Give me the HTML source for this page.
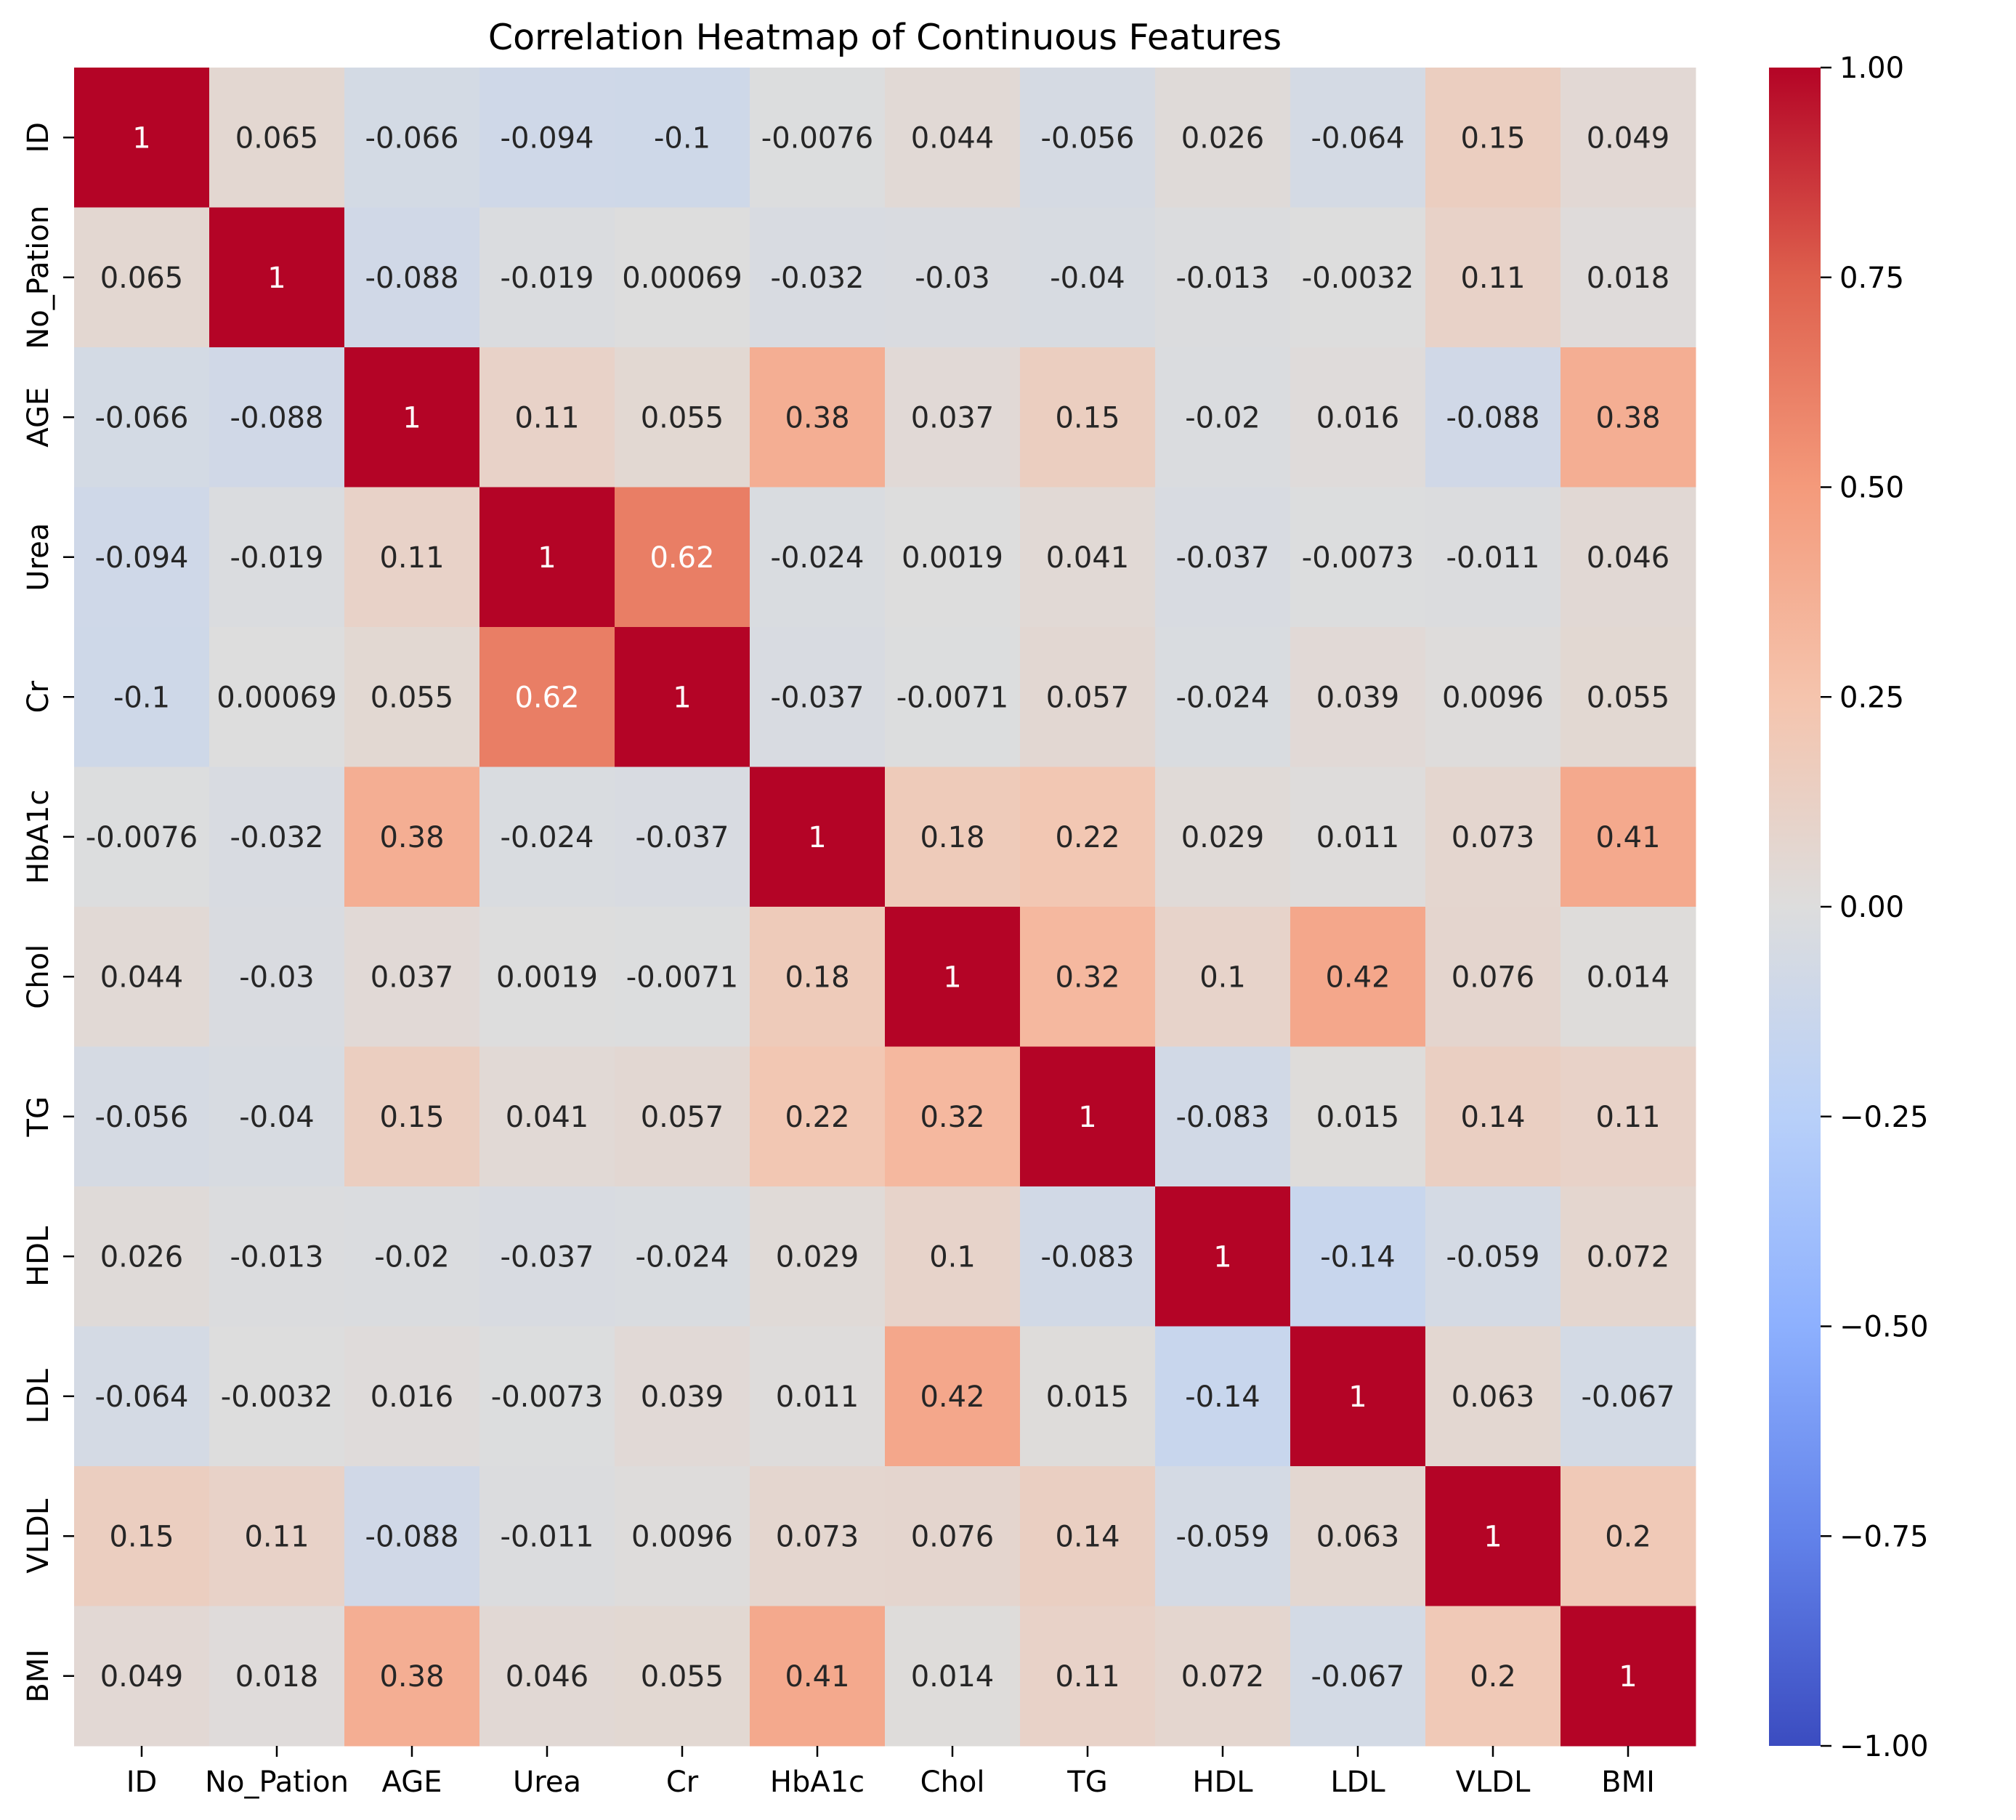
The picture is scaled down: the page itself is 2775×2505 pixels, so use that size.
<!DOCTYPE html>
<html><head><meta charset="utf-8"><style>
html,body{margin:0;padding:0;background:#fff;}
svg{display:block;font-family:"DejaVu Sans","Liberation Sans",sans-serif;}
</style></head><body>
<svg id="chart" width="2775" height="2505" viewBox="0 0 2775 2505" xmlns="http://www.w3.org/2000/svg">
<defs>
<linearGradient id="cbgrad" x1="0" y1="1" x2="0" y2="0">
<stop offset="0" stop-color="rgb(59,76,192)"/>
<stop offset="0.125" stop-color="rgb(98,130,234)"/>
<stop offset="0.25" stop-color="rgb(141,176,254)"/>
<stop offset="0.375" stop-color="rgb(184,208,249)"/>
<stop offset="0.5" stop-color="rgb(221,221,221)"/>
<stop offset="0.625" stop-color="rgb(245,196,173)"/>
<stop offset="0.75" stop-color="rgb(244,154,123)"/>
<stop offset="0.875" stop-color="rgb(222,96,77)"/>
<stop offset="1" stop-color="rgb(180,4,38)"/>
</linearGradient>
</defs>
<text x="1218" y="68" font-size="49" text-anchor="middle" fill="#000">Correlation Heatmap of Continuous Features</text>
<g id="cells"></g>
<g id="yticks"></g>
<g id="xticks"></g>
<rect x="2435" y="93" width="71" height="2310" fill="url(#cbgrad)"/>
<g id="cbticks"></g>
</svg>
<script>
const labels = ["ID","No_Pation","AGE","Urea","Cr","HbA1c","Chol","TG","HDL","LDL","VLDL","BMI"];
const rowID = [1,0.065,-0.066,-0.094,-0.1,-0.0076,0.044,-0.056,0.026,-0.064,0.15,0.049];
const rowNoPation = [0.065,1,-0.088,-0.019,0.00069,-0.032,-0.03,-0.04,-0.013,-0.0032,0.11,0.018];
const rowAGE = [-0.066,-0.088,1,0.11,0.055,0.38,0.037,0.15,-0.02,0.016,-0.088,0.38];
const rowUrea = [-0.094,-0.019,0.11,1,0.62,-0.024,0.0019,0.041,-0.037,-0.0073,-0.011,0.046];
const rowCr = [-0.1,0.00069,0.055,0.62,1,-0.037,-0.0071,0.057,-0.024,0.039,0.0096,0.055];
const rowHbA1c = [-0.0076,-0.032,0.38,-0.024,-0.037,1,0.18,0.22,0.029,0.011,0.073,0.41];
const rowChol = [0.044,-0.03,0.037,0.0019,-0.0071,0.18,1,0.32,0.1,0.42,0.076,0.014];
const rowTG = [-0.056,-0.04,0.15,0.041,0.057,0.22,0.32,1,-0.083,0.015,0.14,0.11];
const rowHDL = [0.026,-0.013,-0.02,-0.037,-0.024,0.029,0.1,-0.083,1,-0.14,-0.059,0.072];
const rowLDL = [-0.064,-0.0032,0.016,-0.0073,0.039,0.011,0.42,0.015,-0.14,1,0.063,-0.067];
const rowVLDL = [0.15,0.11,-0.088,-0.011,0.0096,0.073,0.076,0.14,-0.059,0.063,1,0.2];
const rowBMI = [0.049,0.018,0.38,0.046,0.055,0.41,0.014,0.11,0.072,-0.067,0.2,1];
const matrix = [rowID,rowNoPation,rowAGE,rowUrea,rowCr,rowHbA1c,rowChol,rowTG,rowHDL,rowLDL,rowVLDL,rowBMI];
const cbTickValues = [1,0.75,0.5,0.25,0,-0.25,-0.5,-0.75,-1];
const cbTickLabels = ["1.00","0.75","0.50","0.25","0.00","\u22120.25","\u22120.50","\u22120.75","\u22121.00"];

const NS = "http://www.w3.org/2000/svg";
const gridLeft = 102, gridTop = 93, cw = 186, ch = 192.5;
const cbTopY = 93, cbBotY = 2403, cbRightX = 2506;
function xPos(i){ return gridLeft + i*cw; }
function yPos(i){ return gridTop + i*ch; }
function cbY(v){ return cbBotY - (v + 1) / 2 * (cbBotY - cbTopY); }
const stops = [[59,76,192],[98,130,234],[141,176,254],[184,208,249],[221,221,221],[245,196,173],[244,154,123],[222,96,77],[180,4,38]];
function cmap(v){
  let t = Math.max(0, Math.min(1, (v + 1) / 2)) * 8;
  let i = Math.min(7, Math.floor(t)), f = t - i;
  const a = stops[i], b = stops[i+1];
  return [0,1,2].map(k => Math.round(a[k] + (b[k]-a[k])*f));
}
function lum(c){
  const l = c.map(x => { x/=255; return x <= 0.03928 ? x/12.92 : Math.pow((x+0.055)/1.055, 2.4); });
  return 0.2126*l[0] + 0.7152*l[1] + 0.0722*l[2];
}
function fmt(v){
  let s = v.toPrecision(2);
  if (s.indexOf('.') >= 0 && s.indexOf('e') < 0) s = s.replace(/0+$/,'').replace(/\.$/,'');
  return s;
}
function mk(tag, attrs, parent){
  const el = document.createElementNS(NS, tag);
  for (const k in attrs) el.setAttribute(k, attrs[k]);
  parent.appendChild(el);
  return el;
}
const cellsG = document.getElementById('cells');
matrix.forEach((row, r) => {
  row.forEach((v, c) => {
    const col = cmap(v);
    const rect = mk('rect', {x: xPos(c), y: yPos(r), width: cw + 0.5, height: ch + 0.5, fill: `rgb(${col[0]},${col[1]},${col[2]})`}, cellsG);
    
    
    const t = mk('text', {x: xPos(c) + cw/2, y: yPos(r) + ch/2 + 14, 'font-size': 40, 'text-anchor': 'middle', fill: lum(col) > 0.408 ? '#262626' : '#ffffff'}, cellsG);
    
    
    t.textContent = fmt(v);
  });
});
const ytG = document.getElementById('yticks');
labels.forEach((lab, i) => {
  const cy = yPos(i) + ch/2;
  const tick = mk('line', {x1: 87, x2: 102, y1: cy, y2: cy, stroke: '#000', 'stroke-width': 2.5}, ytG);
  
  
  const t = mk('text', {x: 0, y: 0, 'font-size': 40, 'text-anchor': 'middle', transform: `translate(66,${cy}) rotate(-90)`, fill: '#000'}, ytG);
  
  
  t.textContent = lab;
});
const xtG = document.getElementById('xticks');
labels.forEach((lab, i) => {
  const cx = xPos(i) + cw/2;
  const tick = mk('line', {x1: cx, x2: cx, y1: 2403, y2: 2418, stroke: '#000', 'stroke-width': 2.5}, xtG);
  
  
  const t = mk('text', {x: cx, y: 2466, 'font-size': 40, 'text-anchor': 'middle', fill: '#000'}, xtG);
  
  
  t.textContent = lab;
});
const cbtG = document.getElementById('cbticks');
cbTickValues.forEach((v, i) => {
  const y = cbY(v);
  const tick = mk('line', {x1: cbRightX, x2: cbRightX + 15, y1: y, y2: y, stroke: '#000', 'stroke-width': 2.5}, cbtG);
  
  
  const t = mk('text', {x: 2532, y: y + 14, 'font-size': 40, fill: '#000'}, cbtG);
  
  
  t.textContent = cbTickLabels[i];
});
</script>
</body></html>
